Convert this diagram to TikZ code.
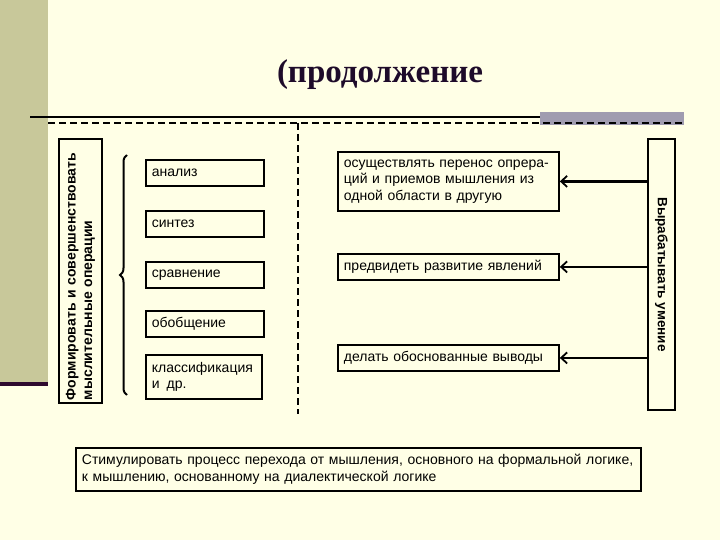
\documentclass[tikz,border=0pt]{standalone}
\usepackage{fontspec}
\setmainfont{Liberation Sans}
\newfontfamily\titlefont{Liberation Serif}
\usetikzlibrary{arrows.meta,decorations.pathreplacing}
\definecolor{bgc}{HTML}{FFFFE6}
\definecolor{stripe}{HTML}{C8C89A}
\definecolor{purp}{HTML}{2E0A2E}
\definecolor{grayb}{HTML}{A09CB0}
\definecolor{titlec}{HTML}{1E0B2A}
\tikzset{
  box/.style={draw, line width=1.8pt, inner xsep=6pt, inner ysep=2pt, align=left, anchor=north west,
    font=\fontsize{14}{16.5}\selectfont},
  vbox/.style={draw, line width=1.8pt, inner sep=2pt, font=\bfseries\fontsize{14}{16.5}\selectfont},
  dline/.style={line width=1.8pt, dash pattern=on 7pt off 4pt},
  arr/.style={line width=2.8pt, -{Straight Barb[length=6pt,width=11pt,line width=1.8pt]}}
}
\begin{document}
\begin{tikzpicture}[x=1pt,y=-1pt]
\useasboundingbox (0,0) rectangle (720,540);
\fill[bgc] (0,0) rectangle (720,540);
\fill[stripe] (0,0) rectangle (48,382);
\fill[purp] (0,382) rectangle (48,386);
\fill[grayb] (540,112) rectangle (684,125);
\draw[line width=2pt] (30,117) -- (540,117);
\draw[dline] (48,123) -- (684,123);
\draw[dline] (298,123) -- (298,414);
\node[font=\titlefont\bfseries\fontsize{33}{36}\selectfont, text=titlec, anchor=base] (title) at (380,83) {(продолжение};

% left vertical box
\node[vbox, rotate=90, minimum width=264pt, minimum height=43pt, align=left, text width=258pt] (lv) at (80.5,271)
  {Формировать и совершенствовать\\мыслительные операции};
% right vertical box
\node[vbox, rotate=-90, minimum width=271pt, minimum height=27pt, font=\bfseries\fontsize{13.5}{16}\selectfont] (rv) at (661.5,274.5) {Вырабатывать умение};

% brace
\draw[line width=2pt, decorate, decoration={brace, amplitude=7pt}] (127,395) -- (127,155);

% left boxes
\node[box, text width=106pt, minimum height=26pt] (an) at (145,159) {анализ};
\node[box, text width=106pt, minimum height=26pt] (sy) at (145,210) {синтез};
\node[box, text width=106pt, minimum height=26pt] (sr) at (145,261) {сравнение};
\node[box, text width=106pt, minimum height=26pt] (ob) at (145,310) {обобщение};
\node[box, text width=104pt, minimum height=44pt] (kl) at (145,354) {классификация\\и\, др.};

% middle boxes
\node[box, text width=209pt, minimum height=59pt] (m1) at (337,151) {осуществлять перенос опрера-\\ций и приемов мышления из\\одной области в другую};
\node[box, text width=209pt, minimum height=26pt] (m2) at (337,253) {предвидеть развитие явлений};
\node[box, text width=209pt, minimum height=26pt] (m3) at (337,344) {делать обоснованные выводы};

% arrows
\draw[arr] (m1.east -| rv.south) -- (m1.east);
\draw[arr] (m2.east -| rv.south) -- (m2.east);
\draw[arr, line width=2pt] (m3.east -| rv.south) -- (m3.east);

% bottom box
\node[box, text width=553pt, minimum height=43pt, inner xsep=6pt] (bt) at (75,447)
  {Стимулировать процесс перехода от мышления, основного на формальной логике,\\к мышлению, основанному на диалектической логике};
\end{tikzpicture}
\end{document}
